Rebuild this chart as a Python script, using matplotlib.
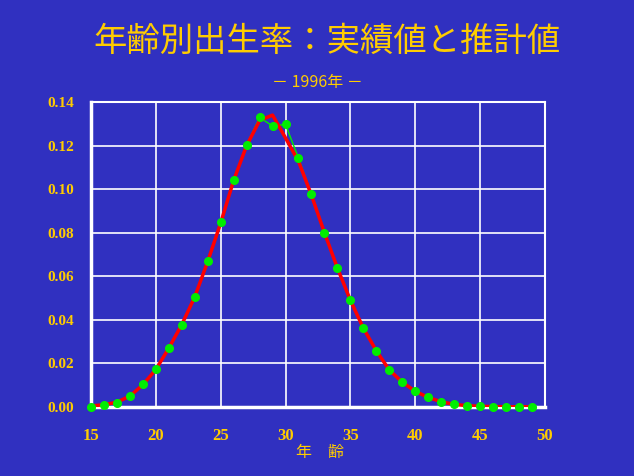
import matplotlib.pyplot as plt

# age-specific fertility rate, 1996
ages = list(range(15, 50))
actual = [0.0000, 0.0010, 0.0020, 0.0050, 0.0104, 0.0173, 0.0270, 0.0376, 0.0504, 0.0670,
          0.0847, 0.1044, 0.1204, 0.1329, 0.1290, 0.1297, 0.1142, 0.0976, 0.0797, 0.0640,
          0.0490, 0.0361, 0.0256, 0.0168, 0.0113, 0.0072, 0.0044, 0.0021, 0.0012, 0.0005,
          0.0004, 0.0002, 0.0002, 0.0002, 0.0002]
estimate = [0.0005, 0.0010, 0.0022, 0.0050, 0.0102, 0.0172, 0.0270, 0.0378, 0.0505, 0.0668,
            0.0845, 0.1040, 0.1200, 0.1315, 0.1340, 0.1235, 0.1128, 0.0972, 0.0800, 0.0638,
            0.0490, 0.0362, 0.0258, 0.0170, 0.0114, 0.0072, 0.0044, 0.0024, 0.0012, 0.0006,
            0.0003, 0.0002, 0.0001, 0.0001, 0.0001]
xticks = [15, 20, 25, 30, 35, 40, 45, 50]
yticks = [0.00, 0.02, 0.04, 0.06, 0.08, 0.10, 0.12, 0.14]

bg = '#3030c0'
gold = '#ffcc00'
plt.rcParams['font.family'] = ['Noto Sans CJK JP', 'DejaVu Sans']

fig = plt.figure(figsize=(6.34, 4.76), dpi=100, facecolor=bg)
ax = fig.add_axes([0.1435, 0.145, 0.716, 0.6407], facecolor=bg)

ax.plot(ages, actual, color='#00ee00', lw=1, zorder=3)
ax.plot(ages, estimate, color='#ff0000', lw=2.5, zorder=4)
ax.plot(ages, actual, 'o', color='#00ee00', ms=5.5, zorder=5, clip_on=False)

ax.set_xlim(15, 50)
ax.set_ylim(0, 0.14)
ax.set_xticks(xticks)
ax.set_yticks(yticks)
ax.set_xticklabels([str(v) for v in xticks], family='Liberation Serif', weight='bold',
                   fontsize=12, color=gold)
ax.set_yticklabels(['%.2f' % v for v in yticks], family='Liberation Serif', weight='bold',
                   fontsize=11, color=gold)
ax.tick_params(axis='x', length=0, pad=15)
ax.tick_params(axis='y', length=0, pad=12)
ax.grid(True, color='white', lw=1.2)
for side in ['top', 'right']:
    ax.spines[side].set_color('white')
    ax.spines[side].set_linewidth(1.5)
for side in ['left', 'bottom']:
    ax.spines[side].set_color('white')
    ax.spines[side].set_linewidth(2.5)

fig.text(0.515, 0.913, '年齢別出生率：実績値と推計値', ha='center', va='center',
         fontsize=24, color=gold)
fig.text(0.5, 0.827, '－ 1996年 －', ha='center', va='center', fontsize=11.5, color=gold)
fig.text(0.505, 0.05, '年　齢', ha='center', va='center', fontsize=11.5, color=gold)

fig.savefig('out.png', dpi=100, facecolor=bg)
